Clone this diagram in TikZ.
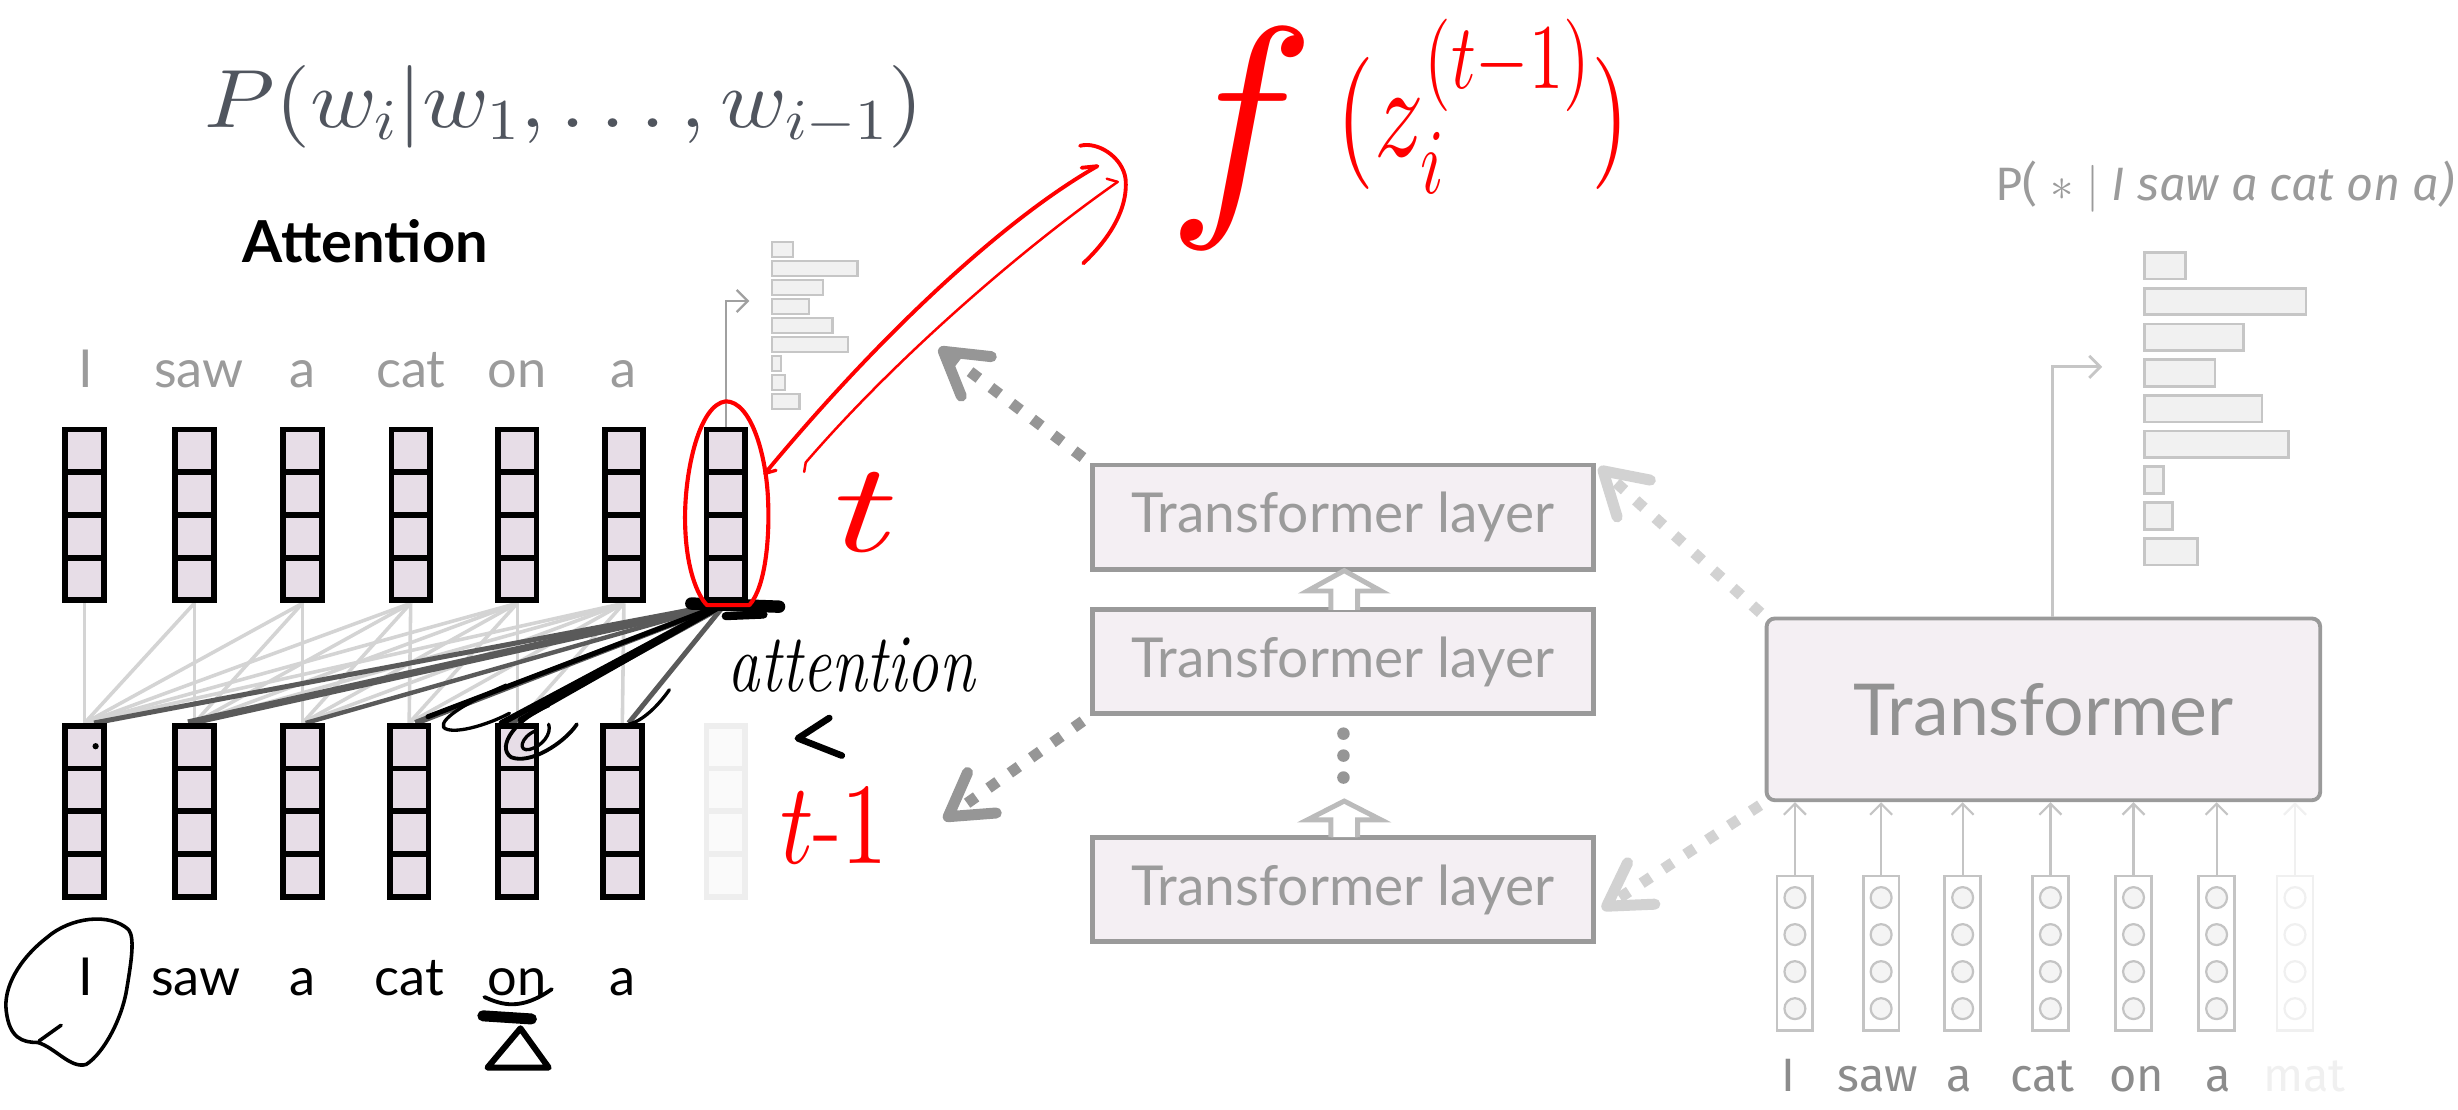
\documentclass[tikz,border=0pt]{standalone}
\usepackage{fontspec}
\usepackage{amsmath}
\usepackage{graphicx}
% scalable Computer Modern math shapes, so large math sizes are honoured
\DeclareFontShape{OML}{cmm}{m}{it}{<->cmmi10}{}
\DeclareFontShape{OT1}{cmr}{m}{n}{<->cmr10}{}
\DeclareFontShape{OMS}{cmsy}{m}{n}{<->cmsy10}{}
\DeclareFontShape{OMX}{cmex}{m}{n}{<->cmex10}{}
\newfontfamily\labelfont{Lato}
\newfontfamily\roundfont{Fira Sans}
\usetikzlibrary{arrows.meta,calc}

\definecolor{cellfill}{HTML}{E7DDE7}
\definecolor{ghostline}{HTML}{EEEEEE}
\definecolor{ghostfill}{HTML}{FAFAFA}
\definecolor{layerfill}{HTML}{F4EFF3}
\definecolor{layerdraw}{HTML}{9A9A9A}
\definecolor{labelgray}{HTML}{9B9B9B}
\definecolor{bigtext}{HTML}{929292}
\definecolor{formulagray}{HTML}{50555E}
\definecolor{attlight}{HTML}{D4D4D4}
\definecolor{attdark}{HTML}{5A5A5A}
\definecolor{dotdark}{HTML}{969696}
\definecolor{dotlight}{HTML}{D2D2D2}
\definecolor{hollowgray}{HTML}{BBBBBB}
\definecolor{histdraw}{HTML}{C6C6C6}
\definecolor{histfill}{HTML}{F1F1F1}
\definecolor{histline}{HTML}{A0A0A0}
\definecolor{inputdraw}{HTML}{C4C4C4}
\definecolor{circfill}{HTML}{F4F4F4}
\definecolor{rightgray}{HTML}{8C8C8C}
\definecolor{faintgray}{HTML}{F0F0F0}
\definecolor{inkred}{HTML}{FF0000}

\begin{document}
\begin{tikzpicture}[x=0.02cm, y=-0.02cm,
  colbox/.style 2 args={draw=#1, fill=#2, line width=2.1pt, minimum width=14pt,
    minimum height=62pt, inner sep=0pt,
    path picture={\foreach \k in {0.25,0.5,0.75}{
      \draw[#1, line width=2.1pt]
        ($(path picture bounding box.north west)!\k!(path picture bounding box.south west)$) --
        ($(path picture bounding box.north east)!\k!(path picture bounding box.south east)$);}}},
  inputcol/.style 2 args={draw=#1, fill=white, line width=1pt, minimum width=13pt,
    minimum height=56pt, inner sep=0pt,
    path picture={\foreach \k in {0.14,0.38,0.62,0.86}{
      \draw[#1, fill=#2, line width=0.8pt]
        ($(path picture bounding box.north)!\k!(path picture bounding box.south)$) circle[radius=3.8pt];}}},
  toplabel/.style={font=\labelfont\fontsize{19}{22}\selectfont, text=labelgray, anchor=base, inner sep=0pt},
  botlabel/.style={font=\labelfont\fontsize{19}{22}\selectfont, text=black, anchor=base, inner sep=0pt},
  rightlabel/.style={font=\roundfont\fontsize{17}{20}\selectfont, text=rightgray, anchor=base, inner sep=0pt},
  layerbox/.style={draw=layerdraw, fill=layerfill, line width=1.8pt, minimum width=182pt,
    minimum height=38pt, inner sep=0pt, text=labelgray, font=\labelfont\fontsize{20}{24}\selectfont},
  bigbox/.style={draw=layerdraw, fill=layerfill, line width=1.4pt, rounded corners=3pt,
    minimum width=201pt, minimum height=66pt, inner sep=0pt, text=bigtext,
    font=\labelfont\fontsize{26}{30}\selectfont},
  histbar/.style={draw=histdraw, fill=histfill, line width=0.8pt},
  attgray/.style={draw=attlight, line width=1.3pt},
  attstrong/.style={draw=attdark, line width=#1},
  dotarrow/.style={draw=#1, line width=4pt, dash pattern=on 4pt off 5.5pt,
    -{Straight Barb[length=15pt,width=18pt,round]}},
  hollowarrow/.style={draw=hollowgray, fill=white, line width=1.8pt, line join=miter},
  redink/.style={draw=inkred, line cap=round, line join=round},
  blackink/.style={draw=black, line cap=round, line join=round},
  thinarrow/.style={line width=0.8pt, -{Straight Barb[length=4pt,width=8pt]}},
  handred/.style={text=inkred, inner sep=0pt, anchor=base},
]
\useasboundingbox (0,0) rectangle (1568,708);

% ---------- title formula and heading ----------
\node[text=formulagray, font=\fontsize{30}{36}\selectfont] (formula) at (360,68)
  {\scalebox{1.09}[1]{$P(w_i|w_1,\ldots,w_{i-1})$}};
\node[font=\labelfont\bfseries\fontsize{21}{25}\selectfont] (atthead) at (233,154) {Attention};

% ---------- token labels above the upper row ----------
\foreach \w/\x [count=\n] in {I/55, saw/127, a/193, cat/262, on/330, a/398}
  \node[toplabel] (tl\n) at (\x,247) {\w};

% ---------- the two rows of hidden-state columns ----------
\foreach \x [count=\n] in {54,124,193,262,330,398,463}
  \coordinate (tcpos\n) at (\x,328.5);
\foreach \x [count=\n] in {54,124,193,261,330,397,463}
  \coordinate (bcpos\n) at (\x,517.5);

\foreach \n in {1,...,6}
  \node[colbox={black}{cellfill}] (bc\n) at (bcpos\n) {};
\node[colbox={ghostline}{ghostfill}] (bc7) at (bcpos7) {};
\foreach \n in {1,...,7}
  \node[colbox={black}{cellfill}] (tc\n) at (tcpos\n) {};

% causal attention links
\foreach \i in {1,...,6}
  \foreach \j in {1,...,\i}
    \draw[attgray] (tc\i.south) -- (bc\j.north);

% attention of the newest position, weighted
\draw[attstrong=1.8pt] (tc7.south) -- ($(bc1.north)+(6,0)$);
\draw[attstrong=2.6pt] (tc7.south) -- ($(bc2.north)+(-4,0)$);
\draw[attstrong=1.6pt] (tc7.south) -- ($(bc3.north)+(2,0)$);
\draw[attstrong=2.2pt] (tc7.south) -- ($(bc4.north)+(4,0)$);
\draw[attstrong=3pt]   (tc7.south) -- ($(bc5.north)+(-6,0)$);
\draw[attstrong=1.8pt] (tc7.south) -- ($(bc6.north)+(4,0)$);

% redraw the columns on top of the line ends
\foreach \n in {1,...,6}
  \node[colbox={black}{cellfill}] at (bcpos\n) {};
\foreach \n in {1,...,7}
  \node[colbox={black}{cellfill}] at (tcpos\n) {};

% ink strokes over the attention lines
\draw[blackink, line width=2.2pt] (tc7.south) -- ($(bc5.north)+(-10,0)$);
\draw[blackink, line width=2pt] (tc7.south) -- ($(bc5.north)+(2,-2)$);
\draw[blackink, line width=1.8pt] (tc7.south) -- ($(bc4.north)+(12,-4)$);
\draw[blackink, line width=1.6pt] (tc7.south) -- ($(bc5.north)+(8,-6)$);
\draw[blackink, line width=1.2pt] (323,437) .. controls (302,446) and (280,458) .. (283,464)
  .. controls (288,469) and (310,463) .. (325,455);
\draw[blackink, line width=1.4pt] (350,450) .. controls (330,458) and (316,476) .. (326,483)
  .. controls (338,488) and (360,474) .. (368,462);
\draw[blackink, line width=1.2pt] (342,466) .. controls (332,470) and (330,480) .. (338,478)
  .. controls (346,476) and (352,468) .. (350,462);
\draw[blackink, line width=1.2pt] (427,440) .. controls (420,450) and (410,460) .. (401,462);
\draw[blackink, line width=4.5pt] (441,385) -- (497,387);
\draw[blackink, line width=3pt] (463,393) -- (487,392);
\fill (61,476) circle[radius=2];

% ---------- small output histogram ----------
\foreach \e [count=\k from 0] in {506,547,525,516,531,541,498,501,510}
  \draw[histbar] (492.5,{154.4+12.1*\k}) rectangle (\e,{163.9+12.1*\k});
\coordinate (smallhist) at (478,192);
\draw[thinarrow, draw=histline] (tc7.north) |- (smallhist);

% ---------- red ink: selection and step labels ----------
\draw[redink, line width=1.5pt] (463,256) .. controls (446,258) and (437,300) .. (437,330)
  .. controls (437,362) and (445,380) .. (451,386) -- (478,386)
  .. controls (488,375) and (491,345) .. (490,320)
  .. controls (489,290) and (479,256) .. (463,256);
\node[handred, font=\fontsize{46}{52}\selectfont] (tlabel) at (553,352) {\scalebox{1.4}[1]{$t$}};
\node[handred, font=\fontsize{42}{48}\selectfont] (tm1label) at (532,551) {\scalebox{0.8}[1]{$t$-$1$}};
\node[font=\fontsize{30}{36}\selectfont] (handattn) at (543,424) {\scalebox{0.78}[1]{\itshape attention}};
\draw[blackink, line width=2.4pt] (529,458) -- (509,471) -- (537,482);

% ---------- labels under the lower row ----------
\foreach \w/\x [count=\n] in {I/55, saw/125, a/193, cat/261, on/330, a/397}
  \node[botlabel] (bl\n) at (\x,635) {\w};
\draw[blackink, line width=1.3pt] (82,593) .. controls (70,582) and (45,585) .. (30,598)
  .. controls (12,612) and (2,630) .. (4,645) .. controls (6,662) and (14,665) .. (24,665)
  .. controls (35,668) and (45,682) .. (55,679) .. controls (66,672) and (78,650) .. (81,630)
  .. controls (84,612) and (86,598) .. (82,593);
\draw[blackink, line width=1.3pt] (39,654) -- (25,664);
\draw[blackink, line width=4pt] (308,648) -- (339,650);
\draw[blackink, line width=1.4pt] (309,636) .. controls (320,641) and (332,645) .. (352,631);
\draw[blackink, line width=2.2pt] (332,656) -- (311,681) -- (350,681) -- cycle;

% ---------- stack of transformer layers ----------
\node[layerbox] (L1) at (856.5,330) {Transformer layer};
\node[layerbox] (L2) at (856.5,422) {Transformer layer};
\node[layerbox] (L3) at (856.5,567.5) {Transformer layer};
\draw[hollowarrow] (849,389) -- (849,377) -- (834,377) -- (857.5,364) -- (881,377) -- (866,377) -- (866,389);
\draw[hollowarrow] (849,534) -- (849,523) -- (834,523) -- (857.5,511) -- (881,523) -- (866,523) -- (866,534);
\foreach \y [count=\n] in {468,482,496}
  \fill[dotdark] (857,\y) circle[radius=4] coordinate (dot\n);

% ---------- transformer over the whole prefix ----------
\node[bigbox] (TR) at (1303.5,452.5) {Transformer};

\foreach \x [count=\n] in {1145,1200,1252,1308,1361,1414}
  \node[inputcol={inputdraw}{circfill}] (ic\n) at (\x,608) {};
\node[inputcol={faintgray}{white}] (ic7) at (1464,608) {};
\foreach \n in {1,...,6}
  \draw[thinarrow, draw=inputdraw] (ic\n.north) -- (ic\n.north |- TR.south);
\draw[thinarrow, draw=faintgray] (ic7.north) -- (ic7.north |- TR.south);

\foreach \w/\x [count=\n] in {I/1141, saw/1198, a/1250, cat/1303, on/1363, a/1415}
  \node[rightlabel] (rl\n) at (\x,696) {\w};
\node[rightlabel, text=faintgray] (rl7) at (1470,696) {mat};

% big output histogram
\foreach \e [count=\k from 0] in {1394,1471,1431,1413,1443,1460,1380,1386,1402}
  \draw[histbar, line width=1pt] (1368,{161+22.8*\k}) rectangle (\e,{178+22.8*\k});
\coordinate (bighist) at (1341,234);
\draw[thinarrow, draw=histdraw, line width=1pt] ($(TR.north)+(6,0)$) |- (bighist);
\node[font=\roundfont\fontsize{17}{20}\selectfont, text=labelgray, anchor=base east, inner sep=0pt]
  (probq) at (1566,128) {P( $\ast$ $|$ \itshape I saw a cat on a)};

% ---------- dotted correspondence arrows ----------
\coordinate (tipA) at (599,222);
\coordinate (tipB) at (602,523);
\draw[dotarrow=dotdark, shorten <=3pt] (L1.north west) -- (tipA);
\draw[dotarrow=dotdark, shorten <=3pt] (L2.south west) -- (tipB);
\coordinate (tipC) at (1020,298);
\coordinate (tipD) at (1022,580);
\draw[dotarrow=dotlight, shorten <=2pt] (TR.north west) -- (tipC);
\draw[dotarrow=dotlight, shorten <=2pt] (TR.south west) -- (tipD);

% ---------- red arrow from f(z) to the selected column ----------
\coordinate (rtipA) at (700,106);
\coordinate (rtipB) at (713,116);
\draw[redink, line width=1.4pt] (rtipA) .. controls (640,140) and (560,215) .. (488,302);
\draw[redink, line width=1.2pt] (488,302) -- (495,300);
\draw[redink, line width=1.4pt] (rtipA) -- (690,107);
\draw[redink, line width=0.9pt] (rtipB) .. controls (650,160) and (570,230) .. (514,295) -- (513,301);
\draw[redink, line width=0.9pt] (rtipB) -- (706,114);
\draw[redink, line width=1.4pt] (689,93) .. controls (700,90) and (716,100) .. (718,114)
  .. controls (720,135) and (705,155) .. (691,168);
\node[handred, font=\fontsize{90}{100}\selectfont] (ff) at (792,128) {$f$};
\node[handred, font=\fontsize{48}{56}\selectfont] (fzarg) at (946,100)
  {\scalebox{0.74}[1]{$(z_i^{(t-1)})$}};
\end{tikzpicture}
\end{document}
